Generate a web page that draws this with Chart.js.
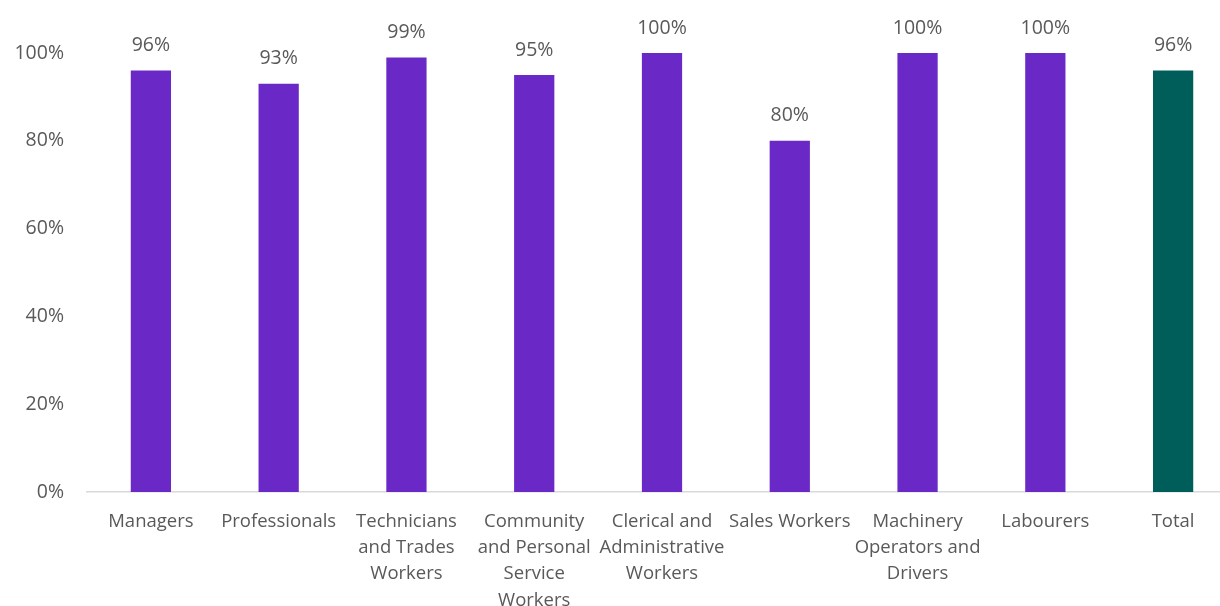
<!DOCTYPE html>
<html>
<head>
<meta charset="utf-8">
<script src="https://cdn.jsdelivr.net/npm/chart.js@4.4.0/dist/chart.umd.min.js"></script>
<style>
  html, body { margin: 0; padding: 0; background: #fff; overflow: hidden; }
  #wrap { position: relative; width: 1237px; height: 606px; }
</style>
</head>
<body>
<div id="wrap"><canvas id="chart"></canvas></div>
<script>
// ---- data ----
const categories = [
  'Managers',
  'Professionals',
  ['Technicians', 'and Trades', 'Workers'],
  ['Community', 'and Personal', 'Service', 'Workers'],
  ['Clerical and', 'Administrative', 'Workers'],
  'Sales Workers',
  ['Machinery', 'Operators and', 'Drivers'],
  'Labourers',
  'Total'
];
const values = [96, 93, 99, 95, 100, 80, 100, 100, 96];
const yTicks = [0, 20, 40, 60, 80, 100];

const PURPLE = '#6A28C6';
const TEAL   = '#005E5A';
const TEXT   = '#595959';
const FONT   = "'Open Sans', sans-serif";

const barColors = categories.map((c, i) => i === categories.length - 1 ? TEAL : PURPLE);

// value labels above bars
const valueLabels = {
  id: 'valueLabels',
  afterDatasetsDraw(chart) {
    const ctx = chart.ctx;
    const meta = chart.getDatasetMeta(0);
    ctx.save();
    ctx.font = '19.5px ' + FONT;
    ctx.fillStyle = TEXT;
    ctx.textAlign = 'center';
    ctx.textBaseline = 'middle';
    meta.data.forEach((bar, i) => {
      ctx.fillText(values[i] + '%', bar.x, bar.y - 25);
    });
    ctx.restore();
  }
};

new Chart(document.getElementById('chart'), {
  type: 'bar',
  data: {
    labels: categories,
    datasets: [{
      data: values,
      backgroundColor: barColors,
      borderWidth: 0,
      barPercentage: 0.315,
      categoryPercentage: 1,
    }]
  },
  options: {
    responsive: true,
    maintainAspectRatio: false,
    animation: false,
    layout: { padding: { top: 53, right: 0, bottom: 0, left: 0 } },
    plugins: { legend: { display: false }, tooltip: { enabled: false } },
    scales: {
      x: {
        grid: { display: false, drawTicks: false },
        border: { display: true, color: '#D9D9D9', width: 1.5 },
        ticks: {
          color: TEXT,
          font: { family: FONT, size: 18.5, lineHeight: 1.41 },
          padding: 17,
          maxRotation: 0,
          autoSkip: false,
        },
        afterFit: s => { s.height = 114; },
      },
      y: {
        min: 0, max: 100,
        afterBuildTicks: s => { s.ticks = yTicks.map(v => ({ value: v })); },
        grid: { display: false, drawTicks: false },
        border: { display: false },
        ticks: {
          color: TEXT,
          font: { family: FONT, size: 19.5 },
          padding: 23,
          callback: v => v + '%',
        },
        afterFit: s => { s.width = 87; },
      }
    }
  },
  plugins: [valueLabels]
});
</script>
</body>
</html>
